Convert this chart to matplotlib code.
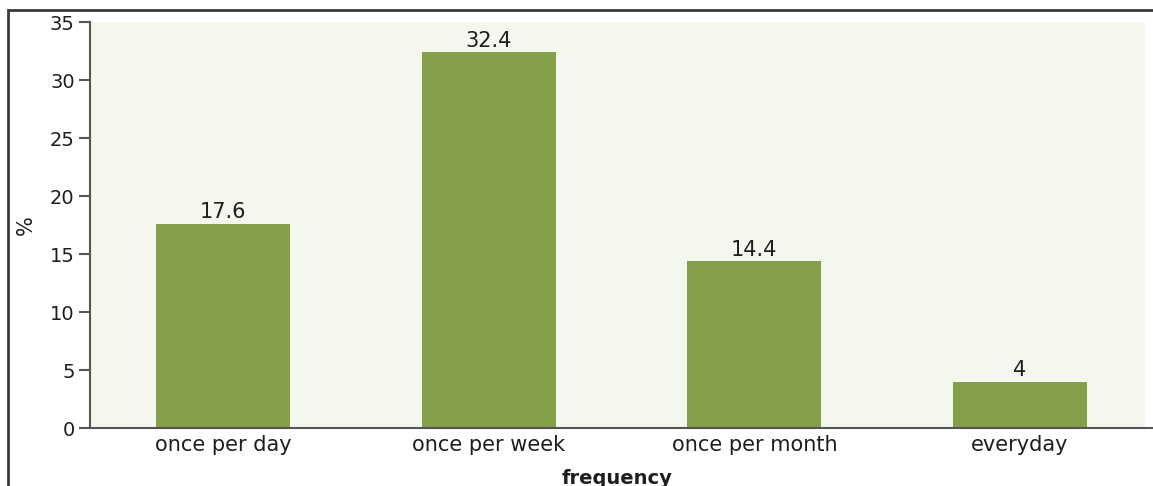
import matplotlib
matplotlib.use("Agg")
import matplotlib.pyplot as plt
from matplotlib.patches import Rectangle

plt.rcParams["font.family"] = ["DejaVu Sans"]

categories = ["once per day", "once per week", "once per month", "everyday"]
percent = [17.6, 32.4, 14.4, 4]
value_labels = ["17.6", "32.4", "14.4", "4"]
y_ticks = [0, 5, 10, 15, 20, 25, 30, 35]

W, H = 1153, 486
fig = plt.figure(figsize=(W / 100, H / 100), dpi=100)
fig.patch.set_facecolor("white")

# outer frame (runs past the right and bottom edges)
fig.add_artist(Rectangle((8 / W, -0.1), 1.2, 1 - 10 / H + 0.1,
                         transform=fig.transFigure, fill=False,
                         edgecolor="#3a3a3a", linewidth=2))

ax = fig.add_axes([90 / W, 1 - 428 / H, (1145 - 90) / W, (428 - 22) / H])
ax.set_facecolor("#f3f7ee")

FS = 15
TICK_FS = 14
TEXT = "#1e1e1e"
x = list(range(len(categories)))
bars = ax.bar(x, percent, width=0.505, color="#84a04a", edgecolor="none", zorder=2)
for b, lbl in zip(bars, value_labels):
    ax.annotate(lbl, (b.get_x() + b.get_width() / 2, b.get_height()),
                xytext=(0, 1), textcoords="offset points",
                ha="center", va="bottom", fontsize=FS, color=TEXT)

ax.set_xlim(-0.5, 3.47)
ax.set_ylim(0, 35)
ax.set_yticks(y_ticks)
ax.set_yticklabels([str(t) for t in y_ticks], fontsize=TICK_FS, color=TEXT)
ax.set_xticks(x)
ax.set_xticklabels(categories, fontsize=FS, color=TEXT)
ax.tick_params(axis="y", direction="out", length=8, width=1.5, color="#555555", pad=3)
ax.tick_params(axis="x", length=0, pad=5)

for side in ["top", "right"]:
    ax.spines[side].set_visible(False)
ax.spines["left"].set_color("#555555")
ax.spines["left"].set_linewidth(1.5)
ax.spines["bottom"].set_color("#555555")
ax.spines["bottom"].set_linewidth(1.5)

# bottom axis line continues to the right edge
fig.add_artist(plt.Line2D([1145 / W, 1.0], [1 - 428 / H] * 2,
                          transform=fig.transFigure, color="#555555", linewidth=1.5))

ax.set_ylabel("%", fontsize=FS, color=TEXT, labelpad=10)
ax.set_xlabel("frequency", fontsize=14, fontweight="bold", color=TEXT, labelpad=10)

fig.savefig("out.png", dpi=100)
